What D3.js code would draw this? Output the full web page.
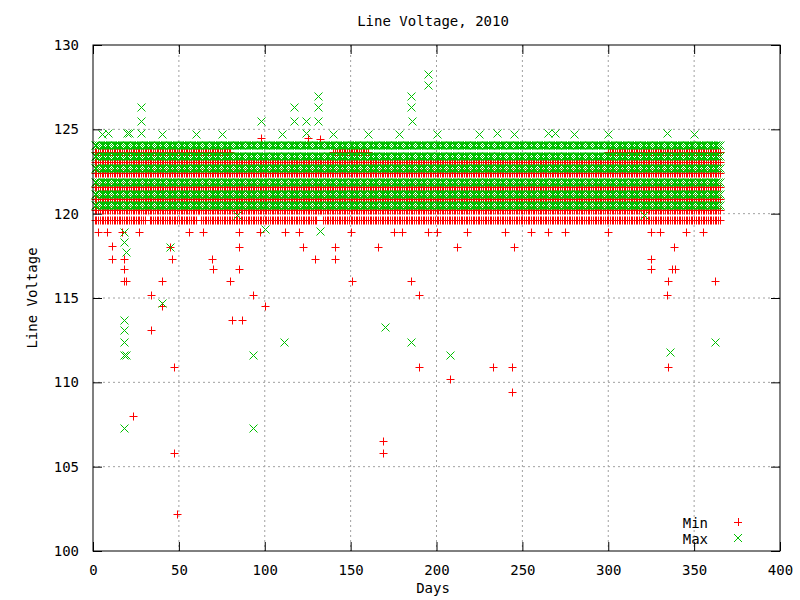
<!DOCTYPE html>
<html>
<head>
<meta charset="utf-8">
<script src="https://cdn.jsdelivr.net/npm/d3@7"></script>
<style>
  body { margin: 0; background: #fff; }
  text { font-family: "DejaVu Sans Mono", monospace; font-size: 14px; fill: #000; }
</style>
</head>
<body>
<svg id="svgMain" width="800" height="600"></svg>
<script>
// Dense daily levels: [value, fromDay, toDay]
const minBands = [
    [119.63, 1, 30], [119.63, 33, 60], [119.63, 63, 130], [119.63, 134, 365],
    [120.22, 1, 365], [120.87, 1, 365], [121.58, 1, 365], [122.41, 1, 365],
    [123.06, 1, 365], [123.66, 1, 80], [123.66, 140, 160], [123.66, 300, 365]
];
const maxBands = [
    [120.52, 1, 365], [121.17, 1, 365], [121.88, 1, 365], [122.71, 1, 365],
    [123.42, 1, 365], [124.07, 1, 365]
];

// Isolated readings: [day, value]
const minPoints = [
    [3, 118.9], [11, 118.1], [11, 117.3], [17, 118.9], [18, 117.3], [18, 116.7], [18, 116.0], [19, 116.0],
    [23, 108.0], [34, 115.2], [34, 113.1], [40, 116.0], [40, 114.5], [45, 118.0], [46, 117.3],
    [47, 110.9], [47, 105.8], [49, 102.2], [56, 118.9], [69, 117.3], [70, 116.7], [80, 116.0],
    [81, 113.7], [85, 116.7], [85, 118.0], [85, 118.9], [87, 113.7], [93, 115.2], [98, 124.5],
    [100, 114.5], [112, 118.9], [122, 118.0], [125, 124.5], [129, 117.3], [132, 124.4],
    [141, 117.3], [141, 118.0], [151, 116.0], [166, 118.0], [169, 105.8], [169, 106.5],
    [185, 116.0], [190, 115.2], [190, 110.9], [208, 110.2], [212, 118.0], [233, 110.9],
    [244, 110.9], [244, 109.4], [245, 118.0], [325, 117.3], [325, 116.7], [325, 118.9],
    [334, 115.2], [335, 116.0], [335, 110.9], [337, 116.7], [338, 118.0], [339, 116.7], [362, 116.0],
    [8, 118.9], [27, 118.9], [64, 118.9], [97, 118.9], [120, 118.9], [150, 118.9], [175, 118.9],
    [180, 118.9], [195, 118.9], [200, 118.9], [218, 118.9], [240, 118.9], [255, 118.9],
    [265, 118.9], [275, 118.9], [300, 118.9], [330, 118.9], [345, 118.9], [355, 118.9]
];
const maxPoints = [
    [9, 124.8], [18, 118.9], [18, 118.3], [19, 117.7], [18, 113.7], [18, 113.1], [18, 112.4],
    [18, 111.6], [19, 111.6], [18, 107.3], [20, 124.8], [21, 124.8], [28, 126.3], [28, 125.5],
    [28, 124.8], [40, 114.7], [45, 118.0], [84, 119.9], [93, 111.6], [93, 107.3], [98, 125.5],
    [100, 119.1], [111, 112.4], [117, 126.3], [117, 125.5], [124, 125.5], [124, 124.8],
    [131, 127.0], [131, 126.3], [131, 125.5], [132, 119.0], [170, 113.3], [185, 127.0],
    [185, 126.3], [186, 125.5], [185, 112.4], [195, 128.3], [195, 127.6], [208, 111.6],
    [235, 124.8], [265, 124.8], [269, 124.8], [321, 119.9], [334, 124.8], [336, 111.8], [362, 112.4],
    [5, 124.7], [40, 124.7], [60, 124.7], [75, 124.7], [110, 124.7], [140, 124.7], [160, 124.7],
    [178, 124.7], [200, 124.7], [225, 124.7], [245, 124.7], [280, 124.7], [300, 124.7], [350, 124.7]
];

const xTicks = [0, 50, 100, 150, 200, 250, 300, 350, 400];
const yTicks = [100, 105, 110, 115, 120, 125, 130];

const svgMain = d3.select("#svgMain");
const margin = { top: 45, right: 20, bottom: 49, left: 93 };
const plotWidth = 800 - margin.left - margin.right;
const plotHeight = 600 - margin.top - margin.bottom;

const xScale = d3.scaleLinear().domain([0, 400]).range([0, plotWidth]);
const yScale = d3.scaleLinear().domain([100, 130]).range([plotHeight, 0]);

const plot = svgMain.append("g")
    .attr("transform", "translate(" + margin.left + "," + margin.top + ")");

// Gridlines
plot.selectAll(".xg").data(xTicks.slice(1, -1)).enter().append("line")
    .attr("x1", d => xScale(d)).attr("x2", d => xScale(d))
    .attr("y1", 0).attr("y2", plotHeight)
    .style("stroke", "#a0a0a0").style("stroke-dasharray", "2,3");
plot.selectAll(".yg").data(yTicks.slice(1, -1)).enter().append("line")
    .attr("y1", d => yScale(d)).attr("y2", d => yScale(d))
    .attr("x1", 0).attr("x2", plotWidth)
    .style("stroke", "#a0a0a0").style("stroke-dasharray", "2,3");

// Expand bands into daily readings
const expand = bands => bands.flatMap(([v, a, b]) => d3.range(a, b + 1).map(day => [day, v]));
const minData = expand(minBands).concat(minPoints);
const maxData = expand(maxBands).concat(maxPoints);

const plusPath = d => {
    const x = Math.round(xScale(d[0])) + 0.5, y = Math.round(yScale(d[1])) + 0.5;
    return "M" + (x - 4) + "," + y + "H" + (x + 4) + "M" + x + "," + (y - 4) + "V" + (y + 4);
};
const crossPath = d => {
    const x = Math.round(xScale(d[0])) + 0.5, y = Math.round(yScale(d[1])) + 0.5;
    return "M" + (x - 4) + "," + (y - 4) + "L" + (x + 4) + "," + (y + 4) +
        "M" + (x - 4) + "," + (y + 4) + "L" + (x + 4) + "," + (y - 4);
};

plot.append("path")
    .attr("d", minData.map(plusPath).join(""))
    .style("stroke", "#ff0000").style("fill", "none").style("stroke-width", 1);
plot.append("path")
    .attr("d", maxData.map(crossPath).join(""))
    .style("stroke", "#00c000").style("fill", "none").style("stroke-width", 1);

// Border and axes with mirrored inward ticks
plot.append("rect").attr("width", plotWidth).attr("height", plotHeight)
    .style("fill", "none").style("stroke", "#000");

const xAxis = d3.axisBottom(xScale).tickValues(xTicks).tickSizeInner(-9).tickSizeOuter(0).tickPadding(14);
const yAxis = d3.axisLeft(yScale).tickValues(yTicks).tickSizeInner(-9).tickSizeOuter(0).tickPadding(14);
const xTop = d3.axisTop(xScale).tickValues(xTicks).tickSizeInner(-9).tickSizeOuter(0).tickFormat("");
const yRight = d3.axisRight(yScale).tickValues(yTicks).tickSizeInner(-9).tickSizeOuter(0).tickFormat("");

[[xAxis, "0," + plotHeight], [yAxis, "0,0"], [xTop, "0,0"], [yRight, plotWidth + ",0"]].forEach(([ax, t]) => {
    const g = plot.append("g").attr("transform", "translate(" + t + ")").call(ax);
    g.select(".domain").remove();
    g.selectAll("line").style("stroke", "#000");
    g.selectAll("text").style("font-family", "DejaVu Sans Mono, monospace").style("font-size", "14px");
});

// Titles
svgMain.append("text").attr("x", 433).attr("y", 26).attr("text-anchor", "middle").text("Line Voltage, 2010");
svgMain.append("text").attr("x", 433).attr("y", 593).attr("text-anchor", "middle").text("Days");
svgMain.append("text").attr("transform", "translate(37," + (margin.top + plotHeight / 2) + ") rotate(-90)")
    .attr("text-anchor", "middle").text("Line Voltage");

// Legend
const legend = svgMain.append("g");
legend.append("text").attr("x", 708).attr("y", 528).attr("text-anchor", "end").text("Min");
legend.append("text").attr("x", 708).attr("y", 544).attr("text-anchor", "end").text("Max");
legend.append("path").attr("d", "M734,522.5H742M738.5,518V526").style("stroke", "#ff0000");
legend.append("path").attr("d", "M734,534L742,542M734,542L742,534").style("stroke", "#00c000");
</script>
</body>
</html>
